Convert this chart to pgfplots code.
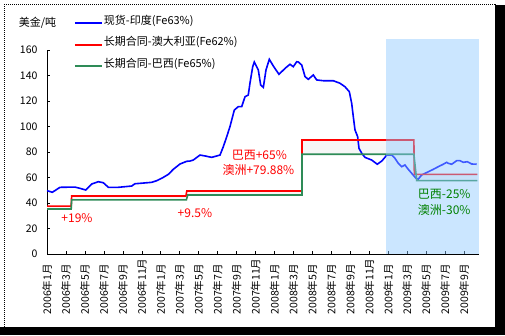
\documentclass[border=0pt]{standalone}
\usepackage{pgfplots}
\pgfplotsset{compat=1.18}
\usepackage{fontspec}
\setmainfont{Noto Sans CJK SC}
\definecolor{sgreen}{RGB}{46,139,87}
\definecolor{tgreen}{RGB}{0,128,0}
\definecolor{shade}{RGB}{140,200,255}
\begin{document}
\begin{tikzpicture}
\path[use as bounding box] (0,0) rectangle (505pt,335pt);
\fill[white] (0,0) rectangle (505pt,335pt);
\fill[black] (0,0) rectangle (505pt,8pt);
\fill[black] (495pt,0) rectangle (505pt,330pt);
\draw[densely dotted, line width=1pt] (4pt,8pt) rectangle (495pt,330pt);
\node[font=\fontsize{11}{13}\selectfont] at (37.5pt,312pt) {美金/吨};
\begin{axis}[
  at={(47pt,81pt)}, anchor=south west,
  scale only axis, width=432pt, height=204pt,
  xmin=0, xmax=45.57, ymin=0, ymax=160,
  axis x line=bottom, axis y line=left,
  axis line style={-, line width=0.8pt},
  clip=false,
  tick align=inside,
  major tick length=3pt,
  tick style={black, line width=0.6pt},
  ytick={0,20,...,160},
  yticklabel style={font=\fontsize{10.5}{12}\selectfont, xshift=-6pt},
  /pgf/number format/assume math mode=true,
  xtick={0,2,...,44},
  xticklabels={2006年1月,2006年3月,2006年5月,2006年7月,2006年9月,2006年11月,2007年1月,2007年3月,2007年5月,2007年7月,2007年9月,2007年11月,2008年1月,2008年3月,2008年5月,2008年7月,2008年9月,2008年11月,2009年1月,2009年3月,2009年5月,2009年7月,2009年9月},
  xticklabel style={rotate=90, anchor=west, font=\fontsize{10.5}{12}\selectfont},
  xticklabel shift=64pt,
  legend style={at={(0.062,1.185)}, anchor=north west, draw=none, fill=none,
    font=\fontsize{11}{13}\selectfont, row sep=0pt, inner sep=0pt,
    nodes={inner sep=1pt, text height=11pt, text depth=8.5pt}},
  legend cell align=left,
  legend image code/.code={\draw[#1, line width=2pt] (0pt,0pt) -- (27pt,0pt);},
]
\addplot[fill=gray!7, draw=none, forget plot] coordinates {(0,37.6)(2.55,37.6)(2.6,45.5)(14.65,45.5)(14.75,49.4)(26.9,49.4)(26.9,89.4)(38.7,89.4)(38.75,62.5)(45.4,62.5)(45.4,57.5)(39.0,57.5)(38.7,78.2)(26.9,78.2)(26.9,46.3)(14.85,46.3)(14.7,42.4)(2.6,42.4)(2.55,35.3)(0,35.3)} -- cycle;
\addplot[blue, line width=1.6pt] coordinates {(0,49.7)(0.56,48.4)(1.37,52.3)(2.95,52.5)(3.48,51.5)(4.08,50.2)(4.72,54.9)(5.41,56.7)(5.94,55.9)(6.47,52.3)(7.52,52.3)(8.93,53.3)(9.28,55.1)(11.04,56.2)(11.57,57.5)(12.27,60.1)(12.80,62.5)(13.32,66.4)(14.03,70.6)(14.74,72.7)(15.08,72.9)(15.43,73.7)(16.14,77.6)(16.67,76.9)(17.37,75.8)(18.25,77.6)(18.60,84.2)(18.96,92)(19.30,99.9)(19.76,112.9)(20.18,115.6)(20.54,115.6)(20.89,123.4)(21.23,124.7)(21.41,133.9)(21.70,146.9)(21.87,150.6)(22.29,144.3)(22.54,132.5)(22.82,130.7)(23.10,144.3)(23.45,152.7)(23.87,147.5)(24.47,140.9)(25.11,145.6)(25.63,148.8)(25.98,146.9)(26.34,150.8)(26.51,150.6)(26.87,148.2)(27.22,139.1)(27.56,137)(28.09,140.4)(28.45,136.5)(29.15,135.9)(30.20,135.9)(30.91,133.9)(31.43,131.2)(31.89,127.3)(32.14,118.2)(32.31,107.7)(32.49,97.3)(32.77,92)(32.91,82.9)(33.20,79)(33.54,75.8)(34.25,73.7)(34.84,70.4)(35.31,72.9)(35.65,75.8)(35.83,77.6)(36.36,77.6)(36.71,75)(37.06,71.1)(37.42,68.5)(37.76,69.8)(38.11,66.4)(38.47,63.3)(38.92,59.4)(39.17,58.8)(39.53,62)(40.22,64.5)(40.75,66.4)(41.28,68.5)(41.80,70.4)(42.16,71.9)(42.33,71.1)(42.69,70.4)(43.22,73.2)(43.57,73.2)(43.91,71.9)(44.34,72.4)(44.80,70.6)(45.33,70.4)};
\addlegendentry{现货-印度(Fe63\%)}
\addplot[red, line width=1.6pt] coordinates {(0,37.6)(2.55,37.6)(2.6,45.5)(14.65,45.5)(14.75,49.4)(26.9,49.4)(26.9,89.4)(38.7,89.4)(38.75,62.5)(45.4,62.5)};
\addlegendentry{长期合同-澳大利亚(Fe62\%)}
\addplot[sgreen, line width=1.6pt] coordinates {(0,35.3)(2.55,35.3)(2.6,42.4)(14.7,42.4)(14.85,46.3)(26.9,46.3)(26.9,78.2)(38.7,78.2)(39.0,57.5)(45.4,57.5)};
\addlegendentry{长期合同-巴西(Fe65\%)}
\addplot[fill=shade, fill opacity=0.45, draw=none, forget plot] coordinates {(35.75,0)(35.75,168.6)(45.57,168.6)(45.57,0)} -- cycle;
\node[red, font=\fontsize{12}{14}\selectfont] at (axis cs:3.16,28.2) {+19\%};
\node[red, font=\fontsize{12}{14}\selectfont] at (axis cs:15.6,32.2) {+9.5\%};
\node[red, font=\fontsize{12}{14}\selectfont] at (axis cs:22.4,77.6) {巴西+65\%};
\node[red, font=\fontsize{12}{14}\selectfont] at (axis cs:22.3,65.9) {澳洲+79.88\%};
\node[tgreen, font=\fontsize{12}{14}\selectfont] at (axis cs:41.9,47.1) {巴西-25\%};
\node[tgreen, font=\fontsize{12}{14}\selectfont] at (axis cs:41.9,34.5) {澳洲-30\%};
\end{axis}
\end{tikzpicture}
\end{document}
